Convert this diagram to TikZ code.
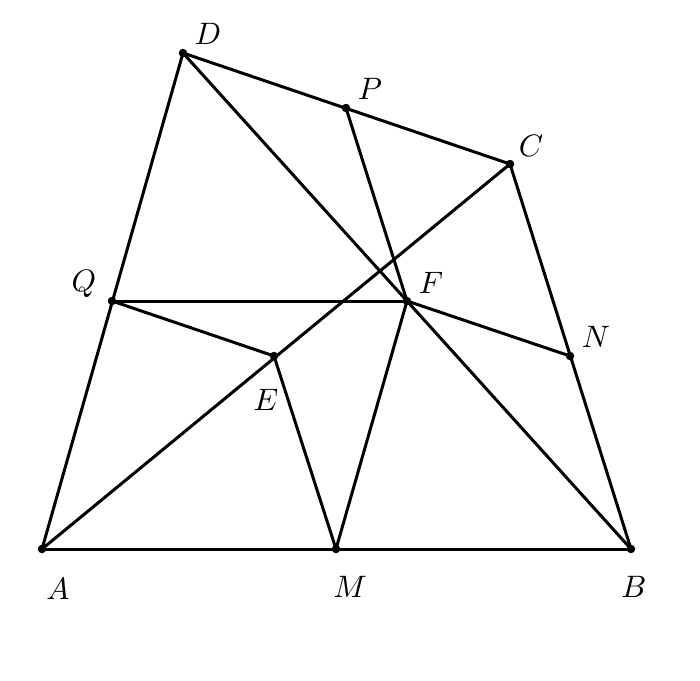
\documentclass[tikz,border=0pt]{standalone}
\begin{document}
\begin{tikzpicture}[x=1pt,y=-1pt,
  seg/.style={line width=3pt,line cap=round},
  pt/.style={circle,fill=black,inner sep=0pt,minimum size=8.5pt},
  lab/.style={scale=3.1,inner sep=0pt}]
\useasboundingbox (0,0) rectangle (700,680);
\node[pt] (A) at (42,549) {};
\node[pt] (B) at (631,549) {};
\node[pt] (M) at (336,549) {};
\node[pt] (D) at (183,53) {};
\node[pt] (C) at (510,164) {};
\node[pt] (P) at (346,108) {};
\node[pt] (Q) at (112,301) {};
\node[pt] (F) at (407,301) {};
\node[pt] (N) at (570,356) {};
\node[pt] (E) at (274,356) {};
\draw[seg] (A.center) -- (B.center);
\draw[seg] (A.center) -- (D.center);
\draw[seg] (D.center) -- (C.center);
\draw[seg] (C.center) -- (B.center);
\draw[seg] (A.center) -- (C.center);
\draw[seg] (D.center) -- (B.center);
\draw[seg] (Q.center) -- (F.center);
\draw[seg] (Q.center) -- (E.center);
\draw[seg] (E.center) -- (M.center);
\draw[seg] (M.center) -- (F.center);
\draw[seg] (F.center) -- (N.center);
\draw[seg] (P.center) -- (F.center);
\node[lab] (lD) at (208,34) {$D$};
\node[lab] (lP) at (370,89) {$P$};
\node[lab] (lC) at (531,146) {$C$};
\node[lab] (lQ) at (84,284) {$Q$};
\node[lab] (lF) at (431,283) {$F$};
\node[lab] (lN) at (596,337) {$N$};
\node[lab] (lE) at (266,400) {$E$};
\node[lab] (lA) at (58,589) {$A$};
\node[lab] (lM) at (350,587) {$M$};
\node[lab] (lB) at (634,587) {$B$};
\end{tikzpicture}
\end{document}
